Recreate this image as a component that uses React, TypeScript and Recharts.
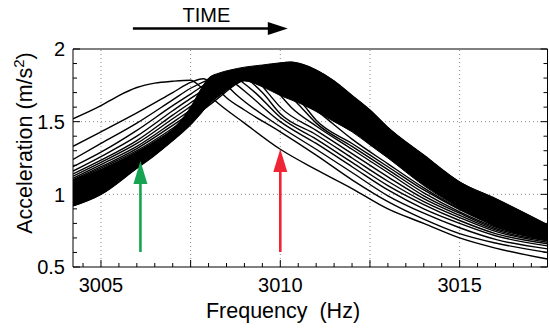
import React from 'react';
import {
  ComposedChart,
  Line,
  Area,
  XAxis,
  YAxis,
  ReferenceLine,
  Label,
} from 'recharts';

// ---- axis / tick definitions ----
const xTickLabels = [3005, 3010, 3015];
const yTickLabels = [0.5, 1, 1.5, 2];
const xGridValues = [3005, 3007.5, 3010, 3012.5, 3015];
const yGridValues = [1, 1.5];
const xDomain: [number, number] = [3004.22, 3017.45];
const yDomain: [number, number] = [0.5, 2];

// ---- frequency sweeps (frequency Hz, acceleration m/s^2) ----
// earliest sweep (right-most peak)
const sweepA = [
  [3004.22, 0.92], [3005, 1.0], [3006, 1.18], [3006.5, 1.27], [3007, 1.37], [3007.5, 1.48],
  [3008, 1.62], [3008.5, 1.72], [3009, 1.79], [3009.5, 1.855], [3010, 1.9], [3010.3, 1.91],
  [3010.6, 1.895], [3011, 1.855], [3011.5, 1.78], [3012, 1.68], [3012.5, 1.58], [3013, 1.46],
  [3014, 1.27], [3015, 1.085], [3016, 0.97], [3017.45, 0.79],
];
const sweepP = [
  [3004.22, 1.09], [3005, 1.17], [3006, 1.29], [3007, 1.44], [3007.5, 1.52], [3008, 1.61],
  [3009, 1.8], [3009.7, 1.88], [3010, 1.83], [3010.4, 1.73], [3010.8, 1.62], [3011.2, 1.54],
  [3012, 1.38], [3013, 1.21], [3014, 1.045], [3015, 0.9], [3016, 0.79], [3017.45, 0.715],
];
const sweepQ = [
  [3004.22, 1.095], [3005, 1.18], [3006, 1.3], [3007, 1.455], [3007.5, 1.54], [3008, 1.63],
  [3009, 1.81], [3009.55, 1.875], [3009.85, 1.82], [3010.25, 1.72], [3010.6, 1.63], [3011, 1.51],
  [3012, 1.35], [3013, 1.19], [3014, 1.03], [3015, 0.895], [3016, 0.785], [3017.45, 0.71],
];
const sweepR = [
  [3004.22, 1.1], [3005, 1.19], [3006, 1.315], [3007, 1.475], [3007.5, 1.56], [3008, 1.65],
  [3009, 1.825], [3009.4, 1.87], [3009.7, 1.815], [3010.1, 1.72], [3010.5, 1.62], [3011, 1.49],
  [3012, 1.33], [3013, 1.17], [3014, 1.01], [3015, 0.88], [3016, 0.775], [3017.45, 0.7],
];
const sweepS = [
  [3004.22, 1.11], [3005, 1.205], [3006, 1.33], [3007, 1.495], [3007.5, 1.58], [3008, 1.67],
  [3009, 1.84], [3009.25, 1.86], [3009.55, 1.8], [3009.9, 1.71], [3010.3, 1.6], [3011, 1.47],
  [3012, 1.31], [3013, 1.15], [3014, 0.99], [3015, 0.87], [3016, 0.765], [3017.45, 0.69],
];
const sweepT = [
  [3004.22, 1.125], [3005, 1.22], [3006, 1.35], [3007, 1.52], [3007.5, 1.605], [3008, 1.69],
  [3008.7, 1.83], [3009, 1.85], [3009.3, 1.8], [3009.65, 1.7], [3010, 1.6], [3011, 1.44],
  [3012, 1.28], [3013, 1.12], [3014, 0.97], [3015, 0.855], [3016, 0.755], [3017.45, 0.68],
];
const sweepU = [
  [3004.22, 1.14], [3005, 1.235], [3006, 1.37], [3007, 1.545], [3007.5, 1.63], [3008, 1.71],
  [3008.8, 1.84], [3009.1, 1.79], [3009.5, 1.7], [3010, 1.555], [3011, 1.41], [3012, 1.25],
  [3013, 1.09], [3014, 0.95], [3015, 0.84], [3016, 0.745], [3017.45, 0.67],
];
const sweepV = [
  [3004.22, 1.16], [3005, 1.26], [3006, 1.4], [3007, 1.575], [3007.5, 1.66], [3008, 1.74],
  [3008.6, 1.83], [3008.9, 1.78], [3009.3, 1.7], [3010, 1.53], [3011, 1.38], [3012, 1.22],
  [3013, 1.06], [3014, 0.93], [3015, 0.82], [3016, 0.73], [3017.45, 0.66],
];
const sweepW = [
  [3004.22, 1.19], [3005, 1.29], [3006, 1.44], [3007, 1.61], [3007.5, 1.69], [3008, 1.77],
  [3008.4, 1.815], [3008.7, 1.77], [3009.1, 1.69], [3010, 1.5], [3011, 1.35], [3012, 1.19],
  [3013, 1.03], [3014, 0.9], [3015, 0.8], [3016, 0.715], [3017.45, 0.645],
];
const sweepX = [
  [3004.22, 1.24], [3005, 1.35], [3006, 1.49], [3007, 1.65], [3007.5, 1.73], [3008, 1.79],
  [3008.15, 1.805], [3008.45, 1.76], [3008.8, 1.68], [3010, 1.465], [3011, 1.31], [3012, 1.15],
  [3013, 0.99], [3014, 0.87], [3015, 0.77], [3016, 0.69], [3017.45, 0.625],
];
const sweepY = [
  [3004.22, 1.33], [3005, 1.43], [3006, 1.56], [3007, 1.7], [3007.5, 1.77], [3007.85, 1.795],
  [3008.15, 1.75], [3008.5, 1.665], [3009, 1.58], [3010, 1.43], [3011, 1.27], [3012, 1.1],
  [3013, 0.95], [3014, 0.83], [3015, 0.73], [3016, 0.665], [3017.45, 0.6],
];
// latest sweep (left-most peak)
const sweepZ = [
  [3004.22, 1.52], [3005, 1.61], [3005.5, 1.68], [3006, 1.735], [3006.5, 1.765], [3007, 1.778],
  [3007.5, 1.785], [3007.75, 1.745], [3008.2, 1.64], [3009, 1.49], [3010, 1.31], [3011, 1.17],
  [3012, 1.04], [3013, 0.9], [3014, 0.8], [3015, 0.7], [3016, 0.63], [3017.45, 0.555],
];

// dense (overlapping) band of the many intermediate sweeps
const bandFreq = [
  3004.22, 3005, 3006, 3006.5, 3007, 3007.5, 3007.8, 3008, 3008.3, 3008.6, 3009, 3009.5, 3010,
  3010.3, 3010.6, 3011, 3011.5, 3012, 3012.5, 3013, 3014, 3015, 3016, 3017.45,
];
const bandLow = [
  0.92, 1.0, 1.18, 1.27, 1.37, 1.48, 1.56, 1.62, 1.68, 1.74, 1.78, 1.74, 1.68,
  1.65, 1.62, 1.57, 1.5, 1.43, 1.34, 1.25, 1.06, 0.905, 0.78, 0.68,
];
const bandHigh = [
  1.095, 1.17, 1.29, 1.36, 1.45, 1.6, 1.73, 1.8, 1.835, 1.855, 1.875, 1.89, 1.905,
  1.91, 1.895, 1.855, 1.78, 1.68, 1.58, 1.46, 1.27, 1.085, 0.97, 0.79,
];

// annotation arrows
const arrowGreen = { f: 3006.1, from: 0.603, to: 1.229, color: '#16a452' };
const arrowRed = { f: 3010, from: 0.603, to: 1.312, color: '#ef2535' };
const timeArrow = { from: 3005.89, to: 3010.21, level: 2.141, text: 'TIME' };

const sweeps = [sweepA, sweepP, sweepQ, sweepR, sweepS, sweepT, sweepU, sweepV, sweepW, sweepX, sweepY, sweepZ];

const toPoints = (arr: number[][]) => arr.map(([f, v]) => ({ f, v }));
const bandData = bandFreq.map((f, i) => ({ f, r: [bandLow[i], bandHigh[i]] }));

const xTicks = Array.from({ length: 26 }, (_, i) => 3004.5 + i * 0.5);
const yTicks = Array.from({ length: 16 }, (_, i) => Math.round((0.5 + i * 0.1) * 10) / 10);

const FONT = 'Liberation Sans, Arial, Helvetica, sans-serif';
const isMajorX = (v: number) => Math.abs((v - 3005) / 2.5 - Math.round((v - 3005) / 2.5)) < 1e-6;
const isMajorY = (v: number) => Math.abs(v * 2 - Math.round(v * 2)) < 1e-6;

const BottomTick = (p: any) => {
  const v = p.payload.value;
  const len = isMajorX(v) ? 7 : 4;
  return (
    <g>
      <line x1={p.x} y1={p.y} x2={p.x} y2={p.y - len} stroke="#000" strokeWidth={1} />
      {xTickLabels.includes(v) && (
        <text x={p.x} y={p.y + 25} textAnchor="middle" fontSize={20} fontFamily={FONT} fill="#000">
          {v}
        </text>
      )}
    </g>
  );
};
const TopTick = (p: any) => {
  const v = p.payload.value;
  const len = isMajorX(v) ? 7 : 4;
  return <line x1={p.x} y1={p.y} x2={p.x} y2={p.y + len} stroke="#000" strokeWidth={1} />;
};
const LeftTick = (p: any) => {
  const v = p.payload.value;
  const len = isMajorY(v) ? 7 : 4;
  return (
    <g>
      <line x1={p.x} y1={p.y} x2={p.x + len} y2={p.y} stroke="#000" strokeWidth={1} />
      {yTickLabels.includes(v) && (
        <text x={p.x - 8} y={p.y} dy="0.36em" textAnchor="end" fontSize={20} fontFamily={FONT} fill="#000">
          {String(v)}
        </text>
      )}
    </g>
  );
};
const RightTick = (p: any) => {
  const v = p.payload.value;
  const len = isMajorY(v) ? 7 : 4;
  return <line x1={p.x} y1={p.y} x2={p.x - len} y2={p.y} stroke="#000" strokeWidth={1} />;
};

const VArrow = (color: string) => (p: any) => {
  const { x1, y1, x2, y2 } = p;
  const head = 23;
  const half = 7;
  return (
    <g>
      <line x1={x1} y1={y1} x2={x2} y2={y2 + head - 1} stroke={color} strokeWidth={2.6} />
      <polygon points={`${x2},${y2} ${x2 - half},${y2 + head} ${x2 + half},${y2 + head}`} fill={color} />
    </g>
  );
};

const TimeArrowShape = (p: any) => {
  const { x1, y1, x2 } = p;
  return (
    <g>
      <line x1={x1} y1={y1} x2={x2 - 18} y2={y1} stroke="#000" strokeWidth={2.6} />
      <polygon points={`${x2},${y1} ${x2 - 20},${y1 - 6.5} ${x2 - 20},${y1 + 6.5}`} fill="#000" />
      <text x={(x1 + x2) / 2 - 4} y={y1 - 6.5} textAnchor="middle" fontSize={20} fontFamily={FONT} fill="#000">
        {timeArrow.text}
      </text>
    </g>
  );
};

const gridStyle = { stroke: '#8a8a8a', strokeWidth: 1, strokeDasharray: '1 3' };

export default function App() {
  return (
    <div style={{ position: 'absolute', left: 0, top: 0, width: 550, height: 328, background: '#fff' }}>
      <ComposedChart
        width={550}
        height={328}
        margin={{ top: 48, right: 1.5, bottom: 60, left: 72 }}
      >
        <XAxis
          xAxisId="b"
          dataKey="f"
          type="number"
          domain={xDomain}
          allowDataOverflow
          ticks={xTicks}
          interval={0}
          tickSize={0}
          tickMargin={0}
          tickLine={false}
          height={1}
          axisLine={{ stroke: '#000', strokeWidth: 1 }}
          tick={(p: any) => <BottomTick {...p} />}
        >
          <Label
            content={() => (
              <text x={283} y={318} textAnchor="middle" fontSize={21.5} fontFamily={FONT} fill="#000" style={{ whiteSpace: 'pre' }}>
                {'Frequency  (Hz)'}
              </text>
            )}
          />
        </XAxis>
        <XAxis
          xAxisId="t"
          orientation="top"
          type="number"
          domain={xDomain}
          allowDataOverflow
          ticks={xTicks}
          interval={0}
          tickSize={0}
          tickMargin={0}
          tickLine={false}
          height={1}
          axisLine={{ stroke: '#000', strokeWidth: 1 }}
          tick={(p: any) => <TopTick {...p} />}
        />
        <YAxis
          yAxisId="l"
          type="number"
          domain={yDomain}
          allowDataOverflow
          ticks={yTicks}
          interval={0}
          tickSize={0}
          tickMargin={0}
          tickLine={false}
          width={1}
          axisLine={{ stroke: '#000', strokeWidth: 1 }}
          tick={(p: any) => <LeftTick {...p} />}
        >
          <Label
            content={() => (
              <text transform="translate(24,143) rotate(-90)" x={0} y={0} dy="0.35em" textAnchor="middle" fontSize={21.5} fontFamily={FONT} fill="#000">
                Acceleration (m/s
                <tspan dy="-8" fontSize={15}>2</tspan>
                <tspan dy="8">)</tspan>
              </text>
            )}
          />
        </YAxis>
        <YAxis
          yAxisId="r"
          orientation="right"
          type="number"
          domain={yDomain}
          allowDataOverflow
          ticks={yTicks}
          interval={0}
          tickSize={0}
          tickMargin={0}
          tickLine={false}
          width={1}
          axisLine={{ stroke: '#000', strokeWidth: 1 }}
          tick={(p: any) => <RightTick {...p} />}
        />
        {xGridValues.map((v) => (
          <ReferenceLine key={'gx' + v} xAxisId="b" yAxisId="l" x={v} {...gridStyle} zIndex={-10} />
        ))}
        {yGridValues.map((v) => (
          <ReferenceLine key={'gy' + v} xAxisId="b" yAxisId="l" y={v} {...gridStyle} zIndex={-10} />
        ))}
        <Area
          xAxisId="b"
          yAxisId="l"
          data={bandData}
          dataKey="r"
          type="monotone"
          fill="#000"
          fillOpacity={1}
          stroke="#000"
          strokeWidth={1}
          isAnimationActive={false}
        />
        {sweeps.map((s, i) => (
          <Line
            key={i}
            xAxisId="b"
            yAxisId="l"
            data={toPoints(s)}
            dataKey="v"
            type="monotone"
            stroke="#000"
            strokeWidth={1.4}
            dot={false}
            activeDot={false}
            isAnimationActive={false}
          />
        ))}
        <ReferenceLine
          xAxisId="b"
          yAxisId="l"
          segment={[{ x: arrowGreen.f, y: arrowGreen.from }, { x: arrowGreen.f, y: arrowGreen.to }]}
          ifOverflow="visible"
          shape={VArrow(arrowGreen.color)}
        />
        <ReferenceLine
          xAxisId="b"
          yAxisId="l"
          segment={[{ x: arrowRed.f, y: arrowRed.from }, { x: arrowRed.f, y: arrowRed.to }]}
          ifOverflow="visible"
          shape={VArrow(arrowRed.color)}
        />
        <ReferenceLine
          xAxisId="b"
          yAxisId="l"
          segment={[{ x: timeArrow.from, y: timeArrow.level }, { x: timeArrow.to, y: timeArrow.level }]}
          ifOverflow="visible"
          shape={TimeArrowShape}
        />
      </ComposedChart>
    </div>
  );
}
